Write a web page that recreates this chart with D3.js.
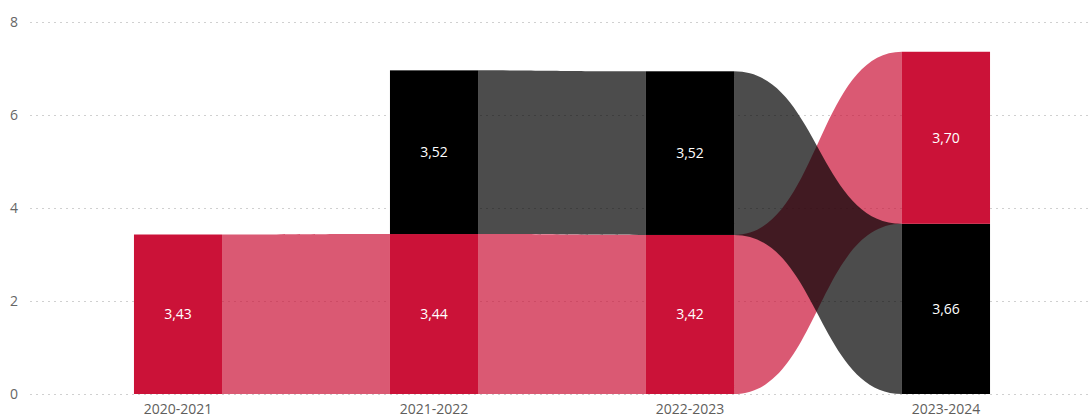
<!DOCTYPE html>
<html>
<head>
<meta charset="utf-8">
<script src="https://cdn.jsdelivr.net/npm/d3@7"></script>
<style>
  body { margin: 0; background: #fff; }
  svg { display: block; font-family: "Segoe UI", "Open Sans", "DejaVu Sans", sans-serif; }
</style>
</head>
<body>
<div id="chart"></div>
<script>
// data
var categories = ["2020-2021", "2021-2022", "2022-2023", "2023-2024"];
var redValues = [3.43, 3.44, 3.42, 3.70];
var blackValues = [null, 3.52, 3.52, 3.66];
var yTicks = [0, 2, 4, 6, 8];

var series = [
  {name: "red", color: "#CB1238", values: redValues},
  {name: "black", color: "#000000", values: blackValues}
];

var width = 1090, height = 415;

var svg = d3.select("#chart")
  .append("svg")
    .attr("width", width)
    .attr("height", height);

var x = d3.scaleBand()
  .domain(categories)
  .range([50, 1074])
  .paddingInner(0.656)
  .paddingOuter(0.328);

var y = d3.scaleLinear()
  .domain([0, 8])
  .range([394, 22]);

// gridlines
svg.append("g")
  .selectAll("line")
  .data(yTicks)
  .enter()
  .append("line")
    .attr("x1", 30)
    .attr("x2", width)
    .attr("y1", function (d) { return y(d) + 0.5; })
    .attr("y2", function (d) { return y(d) + 0.5; })
    .style("stroke", "#d0d0d0")
    .style("stroke-width", 1)
    .style("stroke-dasharray", "2,4");

// y labels
svg.append("g")
  .selectAll("text")
  .data(yTicks)
  .enter()
  .append("text")
    .attr("x", 14)
    .attr("y", function (d) { return y(d); })
    .attr("dy", "0.35em")
    .attr("text-anchor", "middle")
    .style("font-size", "14px")
    .style("fill", "#666666")
    .text(function (d) { return d; });

// x labels (cut by the bottom edge, as in the original)
svg.append("g")
  .selectAll("text")
  .data(categories)
  .enter()
  .append("text")
    .attr("x", function (d) { return x(d) + x.bandwidth() / 2; })
    .attr("y", 414)
    .attr("text-anchor", "middle")
    .style("font-size", "14px")
    .style("fill", "#605e5c")
    .text(function (d) { return d; });

// stack per category: smaller value sits at the bottom
var stacks = categories.map(function (c, i) {
  var items = series
    .filter(function (s) { return s.values[i] != null; })
    .map(function (s) { return {name: s.name, color: s.color, value: s.values[i]}; })
    .sort(function (a, b) { return a.value - b.value; });
  var acc = 0;
  var out = {};
  items.forEach(function (it) {
    it.y0 = acc;
    it.y1 = acc + it.value;
    acc = it.y1;
    out[it.name] = it;
  });
  return out;
});

// ribbons
var ribbons = [];
series.forEach(function (s) {
  for (var i = 0; i < categories.length - 1; i++) {
    var a = stacks[i][s.name], b = stacks[i + 1][s.name];
    if (a && b) ribbons.push({color: s.color, i: i, a: a, b: b});
  }
});

function ribbonPath(r) {
  var xa = x(categories[r.i]) + x.bandwidth();
  var xb = x(categories[r.i + 1]);
  var xm = (xa + xb) / 2;
  return "M" + xa + "," + y(r.a.y1) +
    "C" + xm + "," + y(r.a.y1) + " " + xm + "," + y(r.b.y1) + " " + xb + "," + y(r.b.y1) +
    "L" + xb + "," + y(r.b.y0) +
    "C" + xm + "," + y(r.b.y0) + " " + xm + "," + y(r.a.y0) + " " + xa + "," + y(r.a.y0) +
    "Z";
}

svg.append("g")
  .selectAll("path")
  .data(ribbons)
  .enter()
  .append("path")
    .attr("d", ribbonPath)
    .style("fill", function (d) { return d.color; })
    .style("fill-opacity", 0.7);

// bars
var bars = [];
stacks.forEach(function (st, i) {
  Object.keys(st).forEach(function (k) {
    bars.push({cat: categories[i], item: st[k]});
  });
});

svg.append("g")
  .selectAll("rect")
  .data(bars)
  .enter()
  .append("rect")
    .attr("x", function (d) { return x(d.cat); })
    .attr("y", function (d) { return y(d.item.y1); })
    .attr("width", x.bandwidth())
    .attr("height", function (d) { return y(d.item.y0) - y(d.item.y1); })
    .style("fill", function (d) { return d.item.color; });

var fmt = d3.format(".2f");
svg.append("g")
  .selectAll("text")
  .data(bars)
  .enter()
  .append("text")
    .attr("x", function (d) { return x(d.cat) + x.bandwidth() / 2; })
    .attr("y", function (d) { return y((d.item.y0 + d.item.y1) / 2); })
    .attr("dy", "0.35em")
    .attr("text-anchor", "middle")
    .style("font-size", "14px")
    .style("fill", "#ffffff")
    .text(function (d) { return fmt(d.item.value).replace(".", ","); });
</script>
</body>
</html>
